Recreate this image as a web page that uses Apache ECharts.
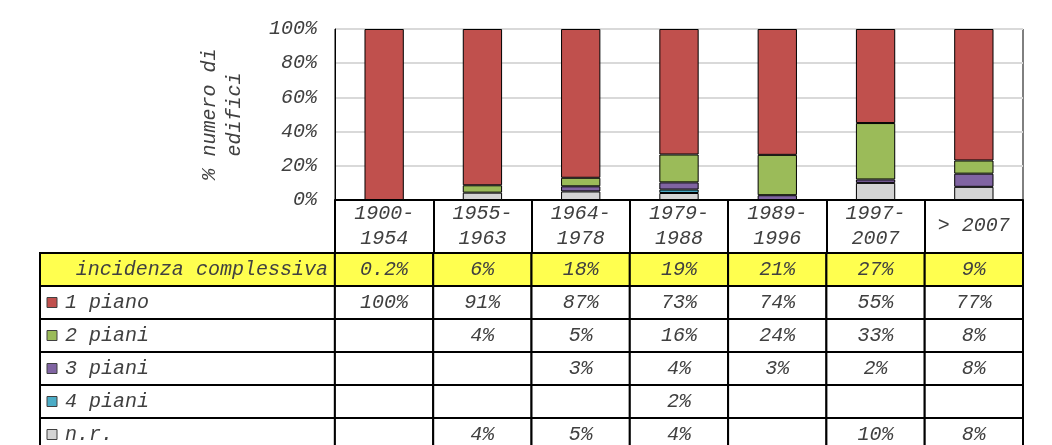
<!DOCTYPE html>
<html>
<head>
<meta charset="utf-8">
<script src="https://cdn.jsdelivr.net/npm/echarts@6.0.0/dist/echarts.min.js"></script>
<style>
  html, body { margin: 0; padding: 0; background: #fff; }
  #chart { width: 1052px; height: 445px; }
</style>
</head>
<body>
<div id="chart"></div>
<script>
// periodi di costruzione
const periods = ["1900-\n1954", "1955-\n1963", "1964-\n1978", "1979-\n1988", "1989-\n1996", "1997-\n2007", "> 2007"];
const incidenza = ["0.2", "6", "18", "19", "21", "27", "9"];
// quote per numero di piani (stimate, in tabella arrotondate)
const piano1 = [100, 91.4, 87, 73.4, 73.6, 55, 76.9];
const piani2 = [null, 4.3, 5, 16.3, 23.6, 33, 7.7];
const piani3 = [null, null, 3, 4.2, 2.8, 2, 7.7];
const piani4 = [null, null, null, 2, null, null, null];
const nonRilevato = [null, 4.3, 5, 4.1, null, 10, 7.7];

const rows = [
  { name: "1 piano", values: piano1, color: "#C0504D" },
  { name: "2 piani", values: piani2, color: "#9BBB59" },
  { name: "3 piani", values: piani3, color: "#8064A2" },
  { name: "4 piani", values: piani4, color: "#4BACC6" },
  { name: "n.r.", values: nonRilevato, color: "#D4D4D4" },
];

const FONT = "Liberation Mono";
const TXT = "#404040";
const YELLOW = "#FFFF4F";

// celle della tabella dati (colonna, riga, testo)
const cells = [];
cells.push({ col: -3, row: 0, span: 3, text: "incidenza complessiva", color: null });
incidenza.forEach((v, i) => cells.push({ col: i, row: 0, span: 1, text: v + "%" }));
rows.forEach((r, k) => {
  cells.push({ col: -3, row: k + 1, span: 3, text: r.name, color: r.color });
  r.values.forEach((v, i) => cells.push({ col: i, row: k + 1, span: 1, text: v == null ? "" : Math.round(v) + "%" }));
});

function renderCell(params, api) {
  const c = cells[params.dataIndex];
  const p0 = api.coord([c.col, c.row]);
  const p1 = api.coord([c.col + c.span, c.row + 1]);
  const x = p0[0], y = p0[1], w = p1[0] - p0[0], h = p1[1] - p0[1];
  const font = "italic 20px '" + FONT + "'";
  const children = [{
    type: "rect",
    shape: { x: x, y: y, width: w, height: h },
    style: { fill: c.row === 0 ? YELLOW : "#fff", stroke: "#000", lineWidth: 2 },
  }];
  if (c.col < 0 && c.color) {
    children.push({
      type: "rect",
      shape: { x: x + 7, y: y + h / 2 - 5, width: 10, height: 10 },
      style: { fill: c.color, stroke: "#404040", lineWidth: 1 },
    });
    children.push({
      type: "text",
      style: { text: c.text, x: x + 25, y: y + h / 2, align: "left", verticalAlign: "middle", font: font, fill: TXT },
    });
  } else if (c.col < 0) {
    children.push({
      type: "text",
      style: { text: c.text, x: x + w - 7, y: y + h / 2, align: "right", verticalAlign: "middle", font: font, fill: TXT },
    });
  } else {
    children.push({
      type: "text",
      style: { text: c.text, x: x + w / 2, y: y + h / 2, align: "center", verticalAlign: "middle", font: font, fill: TXT },
    });
  }
  return { type: "group", children: children };
}

const barSeries = rows.slice().reverse().map((r) => ({
  name: r.name,
  type: "bar",
  stack: "tot",
  xAxisIndex: 0,
  yAxisIndex: 0,
  barWidth: "40%",
  data: r.values,
  itemStyle: { color: r.color, borderColor: "#000", borderWidth: 1 },
}));

const myChart = echarts.init(document.getElementById("chart"));
const option = {
  animation: false,
  grid: [
    { left: 335, right: 29, top: 29, height: 171, show: true, borderColor: "#000", borderWidth: 1, outerBoundsMode: "none" },
    { left: 40, right: 29, top: 253, height: 198, outerBoundsMode: "none" },
  ],
  xAxis: [
    {
      type: "category",
      gridIndex: 0,
      data: periods,
      axisLine: { lineStyle: { color: "#000", width: 2 } },
      axisTick: { show: true, interval: 0, length: 53, lineStyle: { color: "#000", width: 2 } },
      axisLabel: {
        interval: 0, margin: 26, verticalAlign: "middle", lineHeight: 25,
        fontFamily: FONT, fontStyle: "italic", fontSize: 20, color: TXT,
      },
    },
    { type: "value", gridIndex: 1, min: -3, max: 7, show: false },
  ],
  yAxis: [
    {
      type: "value",
      gridIndex: 0,
      min: 0,
      max: 100,
      interval: 20,
      name: "% numero di\nedifici",
      nameLocation: "middle",
      nameRotate: 90,
      nameGap: 88,
      nameTextStyle: { fontFamily: FONT, fontStyle: "italic", fontSize: 20, color: TXT, lineHeight: 25 },
      axisLine: { show: true, lineStyle: { color: "#000", width: 1 } },
      axisTick: { show: false },
      axisLabel: { margin: 18, formatter: "{value}%", fontFamily: FONT, fontStyle: "italic", fontSize: 20, color: TXT },
      splitLine: { lineStyle: { color: "#D9D9D9", width: 2 } },
    },
    { type: "value", gridIndex: 1, min: 0, max: 6, inverse: true, show: false },
  ],
  series: barSeries.concat([{
    type: "custom",
    xAxisIndex: 1,
    yAxisIndex: 1,
    clip: false,
    silent: true,
    renderItem: renderCell,
    data: cells.map((c) => [c.col, c.row]),
  }]),
};
option && myChart.setOption(option);
</script>
</body>
</html>
